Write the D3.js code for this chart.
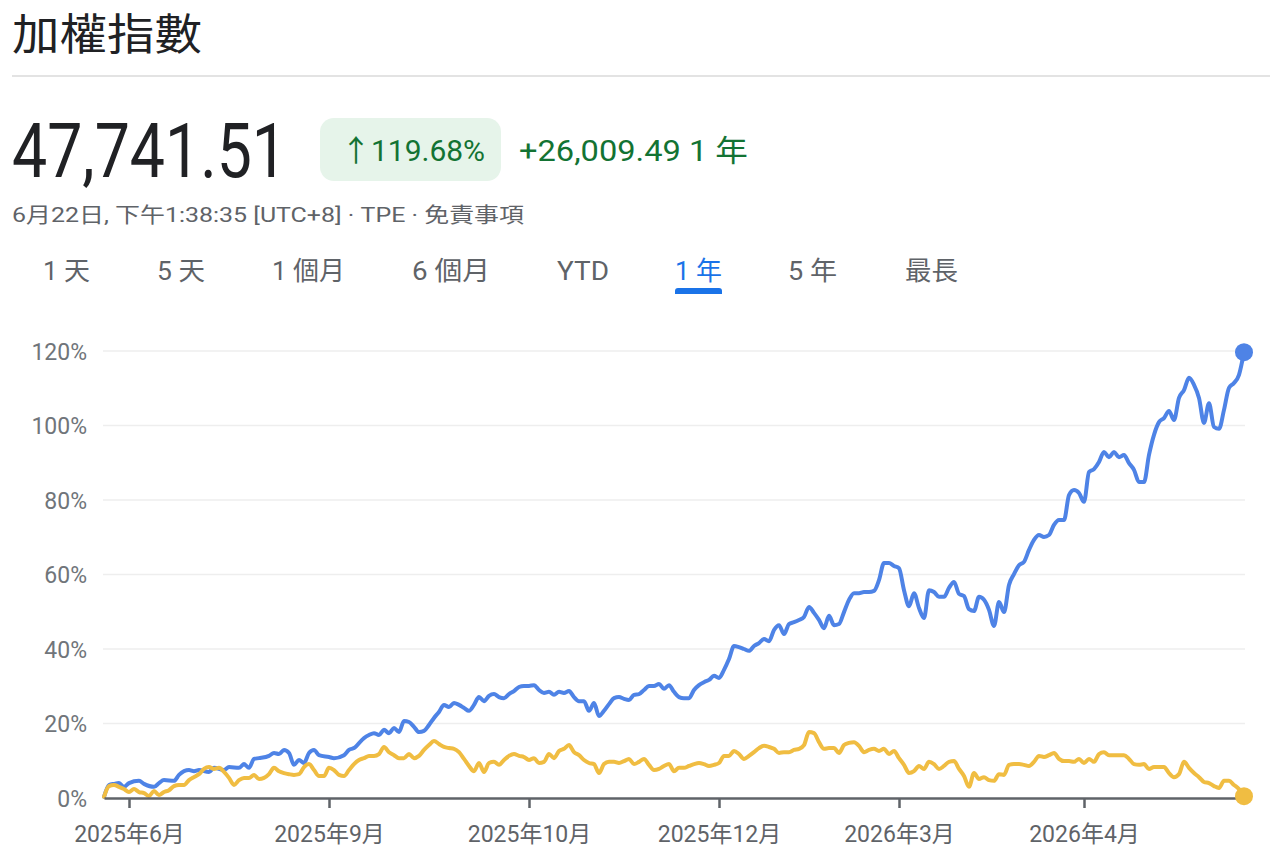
<!DOCTYPE html>
<html><head><meta charset="utf-8">
<script src="https://cdn.jsdelivr.net/npm/d3@7"></script>
<style>
html,body{margin:0;padding:0;background:#fff;}
svg{display:block;}
text{font-family:Roboto,"Noto Sans CJK TC","Noto Sans",sans-serif;}
</style></head><body>
<svg id="c" width="1270" height="861"></svg>
<script>
// ---- data ----
const title = "加權指數";
const price = "47,741.51";
const changePct = "↑119.68%";
const changeAbs = "+26,009.49 1 年";
const subline = "6月22日, 下午1:38:35 [UTC+8] · TPE · 免責事項";
const tabs = ["1 天","5 天","1 個月","6 個月","YTD","1 年","5 年","最長"];
const activeTab = "1 年";
const yTicks = [0,20,40,60,80,100,120];
const xTickDays = [5,45,85,123,159,196];
const xTickLabels = ["2025年6月","2025年9月","2025年10月","2025年12月","2026年3月","2026年4月"];
const totalDays = 228;
// [trading day, % change]  加權指數
const taiex = [[0,0.3],[1,3.5],[2,3.8],[3,4.0],[4,3.0],[5,4.0],[7,4.6],[8,3.8],[10,3.0],[11,4.0],[12,4.8],[14,4.6],[15,6.2],[17,7.5],[18,7.2],[19,7.5],[21,7.0],[22,8.1],[24,7.5],[25,8.3],[27,8.1],[28,9.1],[29,8.1],[30,10.5],[31,10.7],[33,11.3],[34,12.1],[35,11.8],[36,12.9],[37,12.1],[38,8.9],[39,10.2],[40,9.4],[41,12.1],[42,12.9],[43,11.5],[45,11.0],[46,10.7],[48,11.5],[49,12.9],[50,13.4],[52,16.1],[53,16.9],[54,17.4],[55,16.9],[56,18.3],[57,17.4],[58,18.8],[59,17.7],[60,20.7],[61,20.4],[62,19.1],[63,17.7],[64,18.0],[65,19.6],[66,21.5],[67,23.1],[68,25.0],[69,24.4],[70,25.5],[71,25.0],[72,24.2],[73,23.4],[74,25.0],[75,27.1],[76,26.0],[77,27.4],[78,27.9],[79,27.1],[80,26.8],[81,27.9],[82,28.7],[83,29.8],[84,30.1],[85,30.1],[86,30.3],[87,29.0],[88,28.2],[89,28.5],[90,27.7],[91,28.5],[92,28.2],[93,28.7],[94,27.1],[95,26.0],[96,26.0],[97,23.4],[98,25.5],[99,22.0],[100,23.4],[101,25.2],[102,26.8],[103,27.1],[104,26.6],[105,26.3],[106,27.7],[107,27.9],[108,29.0],[109,30.1],[110,30.1],[111,30.6],[112,29.3],[113,30.3],[114,28.5],[115,27.1],[116,26.8],[117,26.8],[118,29.0],[119,30.3],[120,31.1],[121,31.7],[122,32.8],[123,32.2],[124,34.4],[125,37.3],[126,40.8],[127,40.5],[128,40.0],[129,39.5],[130,40.8],[131,41.6],[132,42.7],[133,42.1],[134,45.1],[135,46.4],[136,44.0],[137,46.7],[138,47.2],[139,47.8],[140,48.6],[141,51.3],[142,49.7],[143,47.8],[144,45.6],[145,48.9],[146,46.4],[147,46.7],[148,49.9],[149,53.2],[150,55.0],[151,55.0],[152,55.3],[153,55.3],[154,55.6],[155,58.5],[156,63.1],[157,63.1],[158,62.3],[159,61.7],[160,55.8],[161,51.5],[162,55.0],[163,51.0],[164,48.3],[165,55.8],[166,55.3],[167,54.0],[168,54.0],[169,56.4],[170,58.0],[171,54.8],[172,54.2],[173,50.7],[174,50.2],[175,54.0],[176,53.2],[177,50.5],[178,46.2],[179,52.6],[180,49.9],[181,57.2],[182,60.1],[183,62.5],[184,63.4],[185,66.6],[186,69.3],[187,70.6],[188,70.1],[189,70.6],[190,73.3],[191,74.6],[192,74.6],[193,81.3],[194,82.7],[195,81.9],[196,79.5],[197,87.5],[198,88.3],[199,90.2],[200,92.9],[201,91.5],[202,92.9],[203,91.5],[204,92.1],[205,89.9],[206,88.1],[207,84.8],[208,84.8],[209,92.1],[210,97.5],[211,100.9],[212,102.0],[213,103.9],[214,101.5],[215,107.4],[216,109.5],[217,112.8],[218,110.9],[219,107.4],[220,100.7],[221,106.0],[222,99.6],[223,99.1],[224,104.2],[225,110.1],[226,111.4],[227,113.6],[228,119.68]];
// [trading day, % change]  comparison series
const compare = [[0,0.3],[1,3.2],[2,3.5],[3,3.0],[4,2.4],[5,1.6],[6,2.4],[7,1.6],[8,1.3],[9,0.5],[10,1.9],[11,0.8],[12,1.6],[13,2.1],[14,3.2],[15,3.5],[16,3.5],[17,4.8],[18,5.6],[19,6.4],[20,7.8],[21,8.3],[22,7.8],[23,8.1],[24,7.0],[25,5.4],[26,3.5],[27,4.8],[28,5.4],[29,5.4],[30,6.2],[31,5.1],[32,5.4],[33,6.4],[34,8.1],[35,7.2],[36,6.7],[37,6.4],[38,6.2],[39,6.4],[40,8.3],[41,9.1],[42,7.5],[43,5.9],[44,5.9],[45,8.1],[46,7.5],[47,6.2],[48,5.9],[49,7.5],[50,9.1],[51,10.2],[52,10.7],[53,11.3],[54,11.3],[55,11.8],[56,13.7],[57,12.3],[58,11.5],[59,10.7],[60,10.7],[61,11.8],[62,10.7],[63,11.3],[64,12.9],[65,14.2],[66,15.3],[67,14.5],[68,13.7],[69,13.4],[70,13.2],[71,12.3],[72,10.5],[73,8.6],[74,7.2],[75,9.4],[76,7.0],[77,9.4],[78,9.7],[79,8.9],[80,10.2],[81,11.3],[82,11.8],[83,11.3],[84,11.0],[85,10.2],[86,10.7],[87,9.4],[88,9.7],[89,11.8],[90,10.7],[91,12.6],[92,13.2],[93,14.2],[94,12.3],[95,11.5],[96,10.2],[97,9.4],[98,9.1],[99,6.7],[100,9.1],[101,9.7],[102,9.7],[103,9.4],[104,9.9],[105,10.5],[106,9.1],[107,9.7],[108,10.5],[109,8.9],[110,7.5],[111,7.8],[112,8.6],[113,9.1],[114,7.2],[115,8.1],[116,8.1],[117,8.6],[118,9.1],[119,9.4],[120,9.1],[121,8.6],[122,8.9],[123,9.4],[124,11.3],[125,11.3],[126,12.6],[127,11.8],[128,10.5],[129,11.3],[130,12.3],[131,13.4],[132,14.0],[133,13.7],[134,13.2],[135,12.1],[136,12.3],[137,12.3],[138,12.9],[139,13.2],[140,14.2],[141,17.7],[142,17.4],[143,15.0],[144,13.2],[145,13.4],[146,13.4],[147,12.1],[148,14.2],[149,14.8],[150,15.0],[151,14.0],[152,12.3],[153,12.9],[154,13.2],[155,12.6],[156,13.2],[157,11.8],[158,12.6],[159,10.7],[160,8.9],[161,6.7],[162,7.2],[163,8.6],[164,7.8],[165,9.7],[166,9.1],[167,7.8],[168,8.6],[169,9.7],[170,9.9],[171,7.8],[172,5.9],[173,3.0],[174,6.7],[175,5.1],[176,5.6],[177,4.8],[178,4.6],[179,6.4],[180,6.2],[181,8.9],[182,9.1],[183,9.1],[184,8.9],[185,8.6],[186,9.7],[187,11.3],[188,11.0],[189,11.5],[190,12.1],[191,10.5],[192,9.9],[193,9.9],[194,9.7],[195,10.5],[196,9.4],[197,10.5],[198,9.7],[199,11.8],[200,12.3],[201,11.5],[202,11.5],[203,11.5],[204,11.5],[205,10.5],[206,9.1],[207,8.9],[208,9.1],[209,7.8],[210,8.3],[211,8.3],[212,8.3],[213,6.7],[214,5.6],[215,6.4],[216,9.7],[217,8.1],[218,6.7],[219,5.6],[220,4.3],[221,4.0],[222,3.2],[223,2.7],[224,4.6],[225,4.6],[226,3.5],[227,2.4],[228,0.5]];

// ---- drawing ----
const svg = d3.select("#c");
const dark = "#202124", gray = "#5f6368", green = "#137333", blue = "#1a73e8";

svg.append("text").attr("x",12).attr("y",50)
  .style("font-family",'"Noto Sans CJK TC",sans-serif').style("font-size","43px").attr("fill",dark)
  .attr("textLength",190).attr("lengthAdjust","spacingAndGlyphs").text(title);
svg.append("rect").attr("x",12).attr("y",75).attr("width",1258).attr("height",2).attr("fill","#e3e3e3");

svg.append("text").attr("x",12).attr("y",177).style("font-size","76px").attr("fill",dark)
  .attr("textLength",275).attr("lengthAdjust","spacingAndGlyphs").text(price);

svg.append("rect").attr("x",320).attr("y",118).attr("width",181).attr("height",63).attr("rx",14).attr("fill","#e6f4ea");
svg.append("text").attr("x",341).attr("y",161).style("font-size","30px").attr("fill",green)
  .attr("textLength",144).attr("lengthAdjust","spacingAndGlyphs").text(changePct);
svg.append("text").attr("x",519).attr("y",161).style("font-size","30px").attr("fill",green)
  .attr("textLength",229).attr("lengthAdjust","spacingAndGlyphs").text(changeAbs);

svg.append("text").attr("x",12).attr("y",222).style("font-size","21px").attr("fill",gray)
  .attr("textLength",512).attr("lengthAdjust","spacingAndGlyphs").text(subline);

const tabX = [43,157,272,412,557,675,788,905];
const tabW = [47,48,73,78,52,47,49,53];
tabs.forEach((t,i)=>{
  svg.append("text").attr("x",tabX[i]).attr("y",280).style("font-size","26px")
    .attr("fill", t===activeTab? blue : gray).style("font-weight", 400)
    .attr("textLength",tabW[i]).attr("lengthAdjust","spacingAndGlyphs").text(t);
  if(t===activeTab){
    svg.append("path").attr("d",`M${tabX[i]},294 v-3 a3,3 0 0 1 3,-3 h${tabW[i]-6} a3,3 0 0 1 3,3 v3 z`).attr("fill",blue);
  }
});

// chart
const x = d3.scaleLinear().domain([0,totalDays]).range([104,1244]);
const y = d3.scaleLinear().domain([0,120]).range([798,351]);

const grid = svg.append("g");
grid.selectAll("line").data(yTicks.filter(v=>v>0)).join("line")
  .attr("x1",103).attr("x2",1245).attr("y1",d=>y(d)).attr("y2",d=>y(d))
  .attr("stroke","#eeeeee").attr("stroke-width",1.5);

const yAxis = d3.axisLeft(y).tickValues(yTicks).tickFormat(d=>d+"%").tickSize(0).tickPadding(0);
const ya = svg.append("g").attr("transform","translate(87,0)").call(yAxis);
ya.select(".domain").remove();
ya.selectAll("text").style("font-size","23px").attr("fill","#70757a").attr("dy","0.36em").style("font-family","Roboto");

const line = d3.line().x(d=>x(d[0])).y(d=>y(d[1])).curve(d3.curveMonotoneX);
svg.append("path").datum(taiex).attr("d",line).attr("fill","none")
  .attr("stroke","#4e83e6").attr("stroke-width",4).attr("stroke-linejoin","round").attr("stroke-linecap","round");
svg.append("path").datum(compare).attr("d",line).attr("fill","none")
  .attr("stroke","#f0bd42").attr("stroke-width",4).attr("stroke-linejoin","round").attr("stroke-linecap","round");

// x axis
const xAxis = d3.axisBottom(x).tickValues(xTickDays).tickFormat((d,i)=>xTickLabels[i]).tickSize(10).tickPadding(18).tickSizeOuter(0);
const xa = svg.append("g").attr("transform","translate(0,798)").call(xAxis);
xa.select(".domain").attr("stroke","#5f6368").attr("stroke-width",2.5);
xa.selectAll(".tick line").attr("stroke","#5f6368").attr("stroke-width",2.5);
xa.selectAll("text").style("font-size","23px").attr("fill","#5f6368")
  .style("font-family",'Roboto,"Noto Sans CJK TC",sans-serif');

// end dots
const lastT = taiex[taiex.length-1], lastC = compare[compare.length-1];
svg.append("circle").attr("cx",x(lastT[0])).attr("cy",y(lastT[1])).attr("r",9).attr("fill","#4e83e6");
svg.append("circle").attr("cx",x(lastC[0])).attr("cy",y(lastC[1])).attr("r",9).attr("fill","#f0bd42");
</script></body></html>
